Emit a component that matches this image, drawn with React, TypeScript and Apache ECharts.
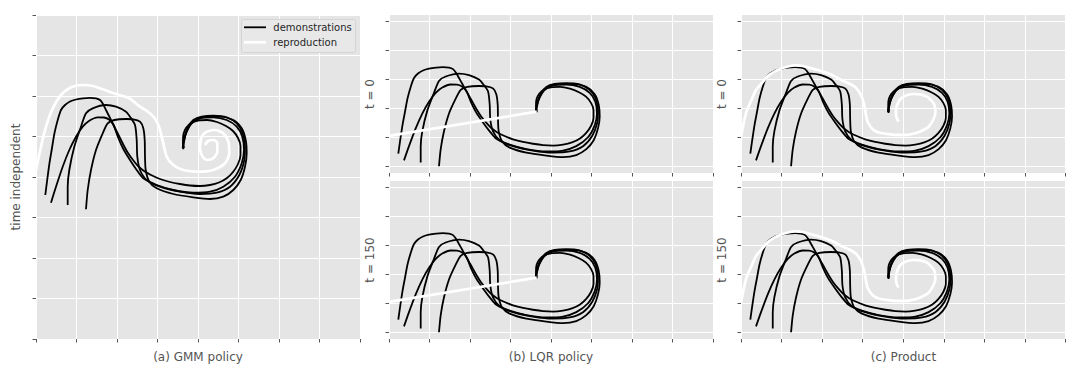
import React, { useEffect, useRef } from "react";
import * as echarts from "echarts";

// ---- data (x, y) in demonstration units ----
const demo1: number[][] = [[9.3,144],[11.2,159],[13.5,176],[16,191],[18.5,206],[22,220],[25,229],[29,234],[34,237.5],[40,239.5],[47,240.7],[54,241.2],[60,240.7],[64,239],[67,235],[70,229],[73.5,222],[77,215],[80.5,208],[84,201],[88,193],[92,186],[97,179],[102,173],[108,168],[115,164],[124,160],[134,157],[144,155],[154,153.5],[164,153],[174,154],[183,156.5],[191,161],[197,167],[202,175],[204.5,184],[204.5,193],[202,201],[197,208],[190,213],[181,217],[171,219],[162,218.5],[155,216],[150,211],[147.5,205],[147,198],[148,191]];
const demo2: number[][] = [[15,136.3],[20,152.3],[26.7,172.3],[33.3,189],[40,202.3],[46.7,212.3],[53.3,218.3],[61.7,221.7],[68,221.5],[73,219.5],[77.3,214.5],[82.3,201],[87.3,190],[94,179],[100.7,169],[107.3,160.7],[120.7,154],[137.3,149],[157.3,146.3],[174,147.3],[187.3,152.3],[199,162.3],[205.7,175.7],[208,189],[206.3,202.3],[200.7,212.3],[190.7,219],[177.3,221.7],[164,220.7],[155.7,215.7],[150.7,207.3],[148,199],[146.7,190.7]];
const demo3: number[][] = [[31.7,134],[31.7,152.3],[33.3,169],[38.3,192.3],[45,212.3],[50,225.7],[56.7,230.7],[70,234],[80,232.3],[90,227.3],[94,222.3],[99,214],[100.7,199],[101.3,182.3],[104,169],[110.7,159],[124,152.3],[144,147.3],[164,145],[180.7,146.3],[194,152.3],[203.3,164],[208.3,179],[209,192.3],[206.7,205.7],[200.7,215.7],[190.7,221.7],[177.3,223.3],[165.7,222.3],[157.3,219],[152.3,212.3],[149,204],[147.3,195.7],[147.3,189.7]];
const demo4: number[][] = [[50,129.7],[51.7,149],[55,169],[60,189],[66.7,205.7],[71.7,215.7],[78.3,219],[90,220],[97.3,219.7],[104,217.3],[107.3,210.7],[108.7,199],[109,182.3],[109.7,169],[113.3,157.3],[120.7,150.7],[137.3,145],[157.3,141.7],[174,140],[187.3,142.3],[197.3,149],[204.7,159],[209,172.3],[210.7,185.7],[209.7,199],[205.7,210.7],[197.3,219],[184,222.3],[170.7,222.3],[160.7,219.7],[154,214],[150,205.7],[148,197.3],[146.7,192.3]];

const reproGMM: number[][] = [[0,169],[5,192.3],[10,212.3],[16.7,230.7],[25,244],[35,251.7],[46.7,254],[56.7,253],[66.7,249.7],[80,245],[93.3,240.7],[104,232.3],[111,228],[117.3,222.3],[121.5,216],[124,209],[127.3,195.7],[130.7,182.3],[137.3,174],[147.3,169],[164,167.3],[177.3,169],[189,175.7],[193.3,185.7],[192.3,197.3],[187.3,205.7],[179,209],[170.7,207.3],[165.7,202.3],[164,192.3],[165.7,184],[170.7,179],[177.3,180.7],[181.3,187.3],[181.3,195.7],[178,199],[172.3,198.3],[169,194]];
const reproLQR: number[][] = [[0,163.8],[147.7,191.1]];
const reproProduct: number[][] = [[0,163.0],[5,189.6],[10,203.1],[15,215.5],[21,223.4],[27,231.3],[33.3,236.1],[40,239.7],[47,242.0],[54,243.1],[62,242.5],[70,239.9],[78,237.5],[86.7,234.3],[94,230.7],[100,226.8],[107,223.4],[114,218.9],[118,213.3],[120.7,207.6],[122.5,200.9],[124,193.0],[125,186.3],[126.5,179.5],[130.7,172.4],[135,168.8],[140.7,166.8],[149,165.5],[157.3,164.9],[166,165.1],[174,166.8],[181,170.0],[187.3,174.2],[191.5,181.2],[194,189.3],[193.8,195.3],[192.3,200.6],[189,204.8],[185.7,208.0],[179,210.5],[172.3,211.0],[167,210.1],[162.3,208.0],[158.5,204.3],[156.7,200.6],[155,195.3],[154.7,189.3],[155.5,184.0],[157.3,179.9]];

// ---- axes ----
const X_MIN = 0;
const X_MAX = 324;
const X_STEP = 40.5;
const GMM_Y_MIN = 0;
const GMM_Y_MAX = 324;
const TV_Y_MIN = 122.1;
const TV_Y_MAX = 299.9;
const tvTicks = [130, 162.5, 195, 227.5, 260, 292.5];

const demos = [demo1, demo2, demo3, demo4];

const panelTitles = ["(a) GMM policy", "(b) LQR policy", "(c) Product"];
const rowLabels = ["time independent", "t = 0", "t = 150"];
const legendNames = ["demonstrations", "reproduction"];

const BG = "#e5e5e5";
const TXT = "#555555";
const FONT = '"DejaVu Sans", sans-serif';
const DEMO_W = 1.8;
const REPRO_W = 2.7;

export default function App() {
  const ref = useRef<HTMLDivElement>(null);
  useEffect(() => {
    const chart = echarts.init(ref.current!, null, { renderer: "svg" });
    const panels = [
      { left: 36, top: 15, width: 324, height: 324, ymin: GMM_Y_MIN, ymax: GMM_Y_MAX, ticks: null as number[] | null, repro: reproGMM },
      { left: 389, top: 15, width: 324, height: 158, ymin: TV_Y_MIN, ymax: TV_Y_MAX, ticks: tvTicks, repro: reproLQR },
      { left: 389, top: 181, width: 324, height: 158, ymin: TV_Y_MIN, ymax: TV_Y_MAX, ticks: tvTicks, repro: reproLQR },
      { left: 741, top: 15, width: 324.5, height: 158, ymin: TV_Y_MIN, ymax: TV_Y_MAX, ticks: tvTicks, repro: reproProduct },
      { left: 741, top: 181, width: 324.5, height: 158, ymin: TV_Y_MIN, ymax: TV_Y_MAX, ticks: tvTicks, repro: reproProduct },
    ];
    const tickStyle = { show: true, length: 3.5, inside: false, lineStyle: { color: TXT, width: 1 } };
    const split = { show: true, lineStyle: { color: "#ffffff", width: 1 } };
    const grid = panels.map((p) => ({
      left: p.left, top: p.top, width: p.width, height: p.height,
      show: true, backgroundColor: BG, borderWidth: 0, containLabel: false,
    }));
    const xAxis = panels.map((p, i) => ({
      type: "value", gridIndex: i, min: X_MIN, max: X_MAX, interval: X_STEP,
      axisLine: { show: false, onZero: false }, axisTick: tickStyle,
      axisLabel: { show: false }, splitLine: split,
    }));
    const yAxis = panels.map((p, i) => {
      const base: any = {
        type: "value", gridIndex: i, min: p.ymin, max: p.ymax,
        axisLine: { show: false, onZero: false }, splitLine: split,
      };
      if (p.ticks) {
        base.axisTick = { ...tickStyle, customValues: p.ticks };
        base.axisLabel = { show: false, customValues: p.ticks };
      } else {
        base.interval = X_STEP;
        base.axisTick = tickStyle;
        base.axisLabel = { show: false };
      }
      return base;
    });
    const series: any[] = [];
    panels.forEach((p, i) => {
      demos.forEach((d) => {
        series.push({
          type: "line", name: legendNames[0], xAxisIndex: i, yAxisIndex: i,
          data: d, symbol: "none", showSymbol: false, smooth: 0.25,
          lineStyle: { color: "#000000", width: DEMO_W }, itemStyle: { color: "#000000" },
          z: 2, silent: true,
        });
      });
      series.push({
        type: "line", name: legendNames[1], xAxisIndex: i, yAxisIndex: i,
        data: p.repro, symbol: "none", showSymbol: false, smooth: 0.25,
        lineStyle: { color: "#ffffff", width: REPRO_W }, itemStyle: { color: "#ffffff" },
        z: 3, silent: true,
      });
    });
    const text = (t: string, x: number, y: number, rot = 0) => ({
      type: "text", x, y, rotation: rot, silent: true, z: 100,
      style: { text: t, fill: TXT, font: `12px ${FONT}`, align: "center", verticalAlign: "middle" },
    });
    const legendEls = [
      { type: "rect", z: 100, silent: true, shape: { x: 241.5, y: 19.5, width: 114, height: 33, r: 2 },
        style: { fill: "#e8e8e8", stroke: "#d4d4d4", lineWidth: 1 } },
      { type: "line", z: 101, silent: true, shape: { x1: 244, y1: 27.3, x2: 266, y2: 27.3 },
        style: { stroke: "#000000", lineWidth: DEMO_W } },
      { type: "line", z: 101, silent: true, shape: { x1: 244, y1: 42.3, x2: 266, y2: 42.3 },
        style: { stroke: "#ffffff", lineWidth: REPRO_W } },
      { type: "text", z: 101, silent: true, x: 273.3, y: 27.3,
        style: { text: legendNames[0], fill: "#262626", font: `10px ${FONT}`, align: "left", verticalAlign: "middle" } },
      { type: "text", z: 101, silent: true, x: 273.3, y: 42.3,
        style: { text: legendNames[1], fill: "#262626", font: `10px ${FONT}`, align: "left", verticalAlign: "middle" } },
    ];
    chart.setOption({
      animation: false,
      textStyle: { fontFamily: FONT },
      grid, xAxis, yAxis, series,
      graphic: [
        text(panelTitles[0], 198, 357),
        text(panelTitles[1], 551, 357),
        text(panelTitles[2], 903.5, 357),
        text(rowLabels[0], 16, 177, Math.PI / 2),
        text(rowLabels[1], 370, 94, Math.PI / 2),
        text(rowLabels[2], 370, 260, Math.PI / 2),
        text(rowLabels[1], 722, 94, Math.PI / 2),
        text(rowLabels[2], 722, 260, Math.PI / 2),
        ...legendEls,
      ],
    });
    return () => chart.dispose();
  }, []);
  return (
    <div
      ref={ref}
      style={{ position: "fixed", left: 0, top: 0, width: 1080, height: 374, background: "#ffffff" }}
    />
  );
}
